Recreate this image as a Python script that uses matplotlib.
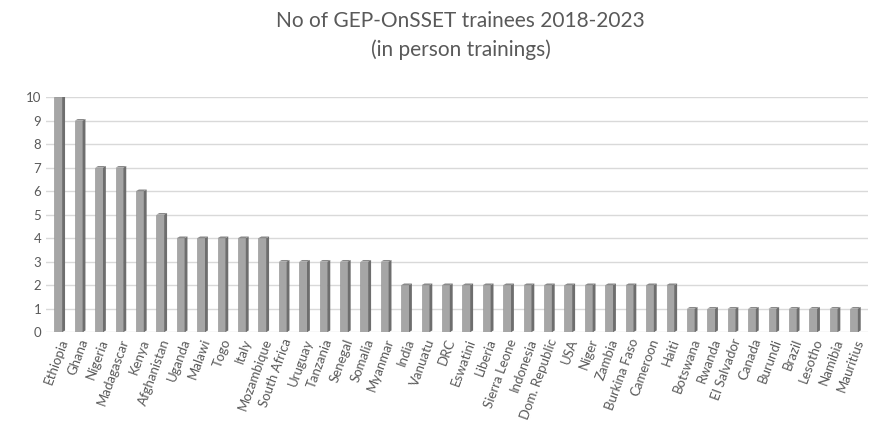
import numpy as np
import matplotlib
matplotlib.use("Agg")
import matplotlib.pyplot as plt
from matplotlib.patches import Polygon

countries = ["Ethiopia", "Ghana", "Nigeria", "Madagascar", "Kenya", "Afghanistan", "Uganda",
             "Malawi", "Togo", "Italy", "Mozambique", "South Africa", "Uruguay", "Tanzania",
             "Senegal", "Somalia", "Myanmar", "India", "Vanuatu", "DRC", "Eswatini", "Liberia",
             "Sierra Leone", "Indonesia", "Dom. Republic", "USA", "Niger", "Zambia",
             "Burkina Faso", "Cameroon", "Haiti", "Botswana", "Rwanda", "El Salvador", "Canada",
             "Burundi", "Brazil", "Lesotho", "Namibia", "Mauritius"]
trainees = [10, 9, 7, 7, 6, 5, 4, 4, 4, 4, 4, 3, 3, 3, 3, 3, 3, 2, 2, 2, 2, 2, 2, 2, 2, 2,
            2, 2, 2, 2, 2, 1, 1, 1, 1, 1, 1, 1, 1, 1]

plt.rcParams['font.family'] = ['Lato', 'DejaVu Sans']
fig = plt.figure(figsize=(8.86, 4.28), dpi=100)
ax = fig.add_axes([0.052, 0.224, 0.928, 0.549])

x = np.arange(len(countries))
w = 0.38
dx = 0.14   # depth offset in data units (x)
dy = 0.07   # depth offset in data units (y)
ax.bar(x, trainees, width=w, color="#a6a6a6", edgecolor="#8c8c8c", linewidth=0.4, zorder=3)
for xi, v in zip(x, trainees):
    r = xi + w / 2
    l = xi - w / 2
    ax.add_patch(Polygon([(r, 0), (r + dx, dy), (r + dx, v + dy), (r, v)],
                         closed=True, facecolor="#6e6e6e", edgecolor="none", zorder=3))
    ax.add_patch(Polygon([(l, v), (r, v), (r + dx, v + dy), (l + dx, v + dy)],
                         closed=True, facecolor="#8a8a8a", edgecolor="none", zorder=3))

ax.set_xlim(-0.6, len(countries) - 0.3)
ax.set_ylim(0, 10)
ax.set_yticks(range(0, 11))
ax.yaxis.grid(True, color="#d9d9d9", linewidth=1)
ax.set_axisbelow(True)
for s in ax.spines.values():
    s.set_visible(False)
ax.tick_params(axis='both', length=0, labelsize=9.5, colors="#595959")
ax.set_xticks(x)
ax.set_xticklabels(countries, rotation=70, ha='right', rotation_mode='anchor')

fig.suptitle("No of GEP-OnSSET trainees 2018-2023\n(in person trainings)",
             x=0.52, y=0.975, fontsize=15, color="#595959", linespacing=1.5)

fig.savefig("out.png")
